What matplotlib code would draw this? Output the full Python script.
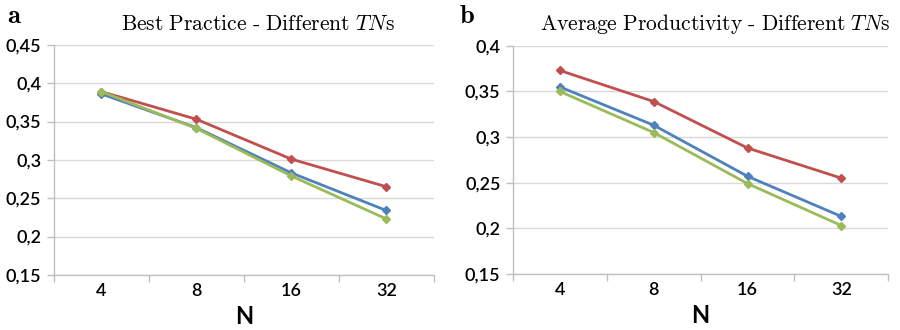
import matplotlib
matplotlib.use('Agg')
import matplotlib.pyplot as plt
import numpy as np

plt.rcParams['mathtext.fontset'] = 'cm'
plt.rcParams['font.family'] = ['Lato', 'DejaVu Sans']

# data
n_labels = ['4', '8', '16', '32']

best_blue = [0.386, 0.342, 0.283, 0.234]
best_red = [0.389, 0.353, 0.301, 0.265]
best_green = [0.389, 0.341, 0.279, 0.223]

avg_blue = [0.355, 0.313, 0.257, 0.213]
avg_red = [0.373, 0.339, 0.288, 0.255]
avg_green = [0.350, 0.305, 0.249, 0.203]

BLUE = '#4F81BD'
RED = '#C0504D'
GREEN = '#9BBB59'
GRID = '#D9D9D9'
AXIS = '#BFBFBF'


def style_axes(ax, yticks, ylabels):
    x = np.arange(len(n_labels))
    ax.set_xlim(-0.5, len(n_labels) - 0.5)
    ax.set_xticks(x)
    ax.set_xticklabels(n_labels, fontsize=13, fontweight='semibold')
    ax.set_xticks(np.arange(len(n_labels) + 1) - 0.5, minor=True)
    ax.tick_params(axis='x', which='major', length=0, pad=6)
    ax.tick_params(axis='x', which='minor', length=5, color=AXIS, width=1)
    ax.set_ylim(yticks[0], yticks[-1])
    ax.set_yticks(yticks)
    ax.set_yticklabels(ylabels, fontsize=13, fontweight='semibold')
    ax.tick_params(axis='y', length=5, color=AXIS, width=1, pad=4)
    ax.yaxis.grid(True, color=GRID, linewidth=1)
    ax.set_axisbelow(True)
    for s in ['top', 'right']:
        ax.spines[s].set_visible(False)
    for s in ['left', 'bottom']:
        ax.spines[s].set_color(AXIS)
        ax.spines[s].set_linewidth(1)
    ax.set_xlabel('N', fontsize=17, fontweight='bold', labelpad=4)


def plot_series(ax, blue, red, green):
    x = np.arange(len(n_labels))
    for vals, c in [(blue, BLUE), (red, RED), (green, GREEN)]:
        ax.plot(x, vals, color=c, linewidth=2, marker='D', markersize=4,
                markeredgecolor=c, markerfacecolor=c, clip_on=False)


fig = plt.figure(figsize=(9, 3.3), dpi=100)

ax1 = fig.add_axes([0.06, 0.167, 0.422, 0.697])
plot_series(ax1, best_blue, best_red, best_green)
style_axes(ax1, [0.15, 0.2, 0.25, 0.3, 0.35, 0.4, 0.45],
           ['0,15', '0,2', '0,25', '0,3', '0,35', '0,4', '0,45'])

ax2 = fig.add_axes([0.570, 0.170, 0.417, 0.691])
plot_series(ax2, avg_blue, avg_red, avg_green)
style_axes(ax2, [0.15, 0.2, 0.25, 0.3, 0.35, 0.4],
           ['0,15', '0,2', '0,25', '0,3', '0,35', '0,4'])

fig.text(0.287, 0.928, r'$\mathrm{Best\ Practice\ \text{-}\ Different\ }TN\mathrm{s}$',
         ha='center', va='center', fontsize=15.5)
fig.text(0.795, 0.928, r'$\mathrm{Average\ Productivity\ \text{-}\ Different\ }TN\mathrm{s}$',
         ha='center', va='center', fontsize=15.5)
fig.text(0.008, 0.953, r'$\mathbf{a}$', ha='left', va='center', fontsize=19)
fig.text(0.510, 0.953, r'$\mathbf{b}$', ha='left', va='center', fontsize=19)

fig.savefig('out.png', dpi=100)
